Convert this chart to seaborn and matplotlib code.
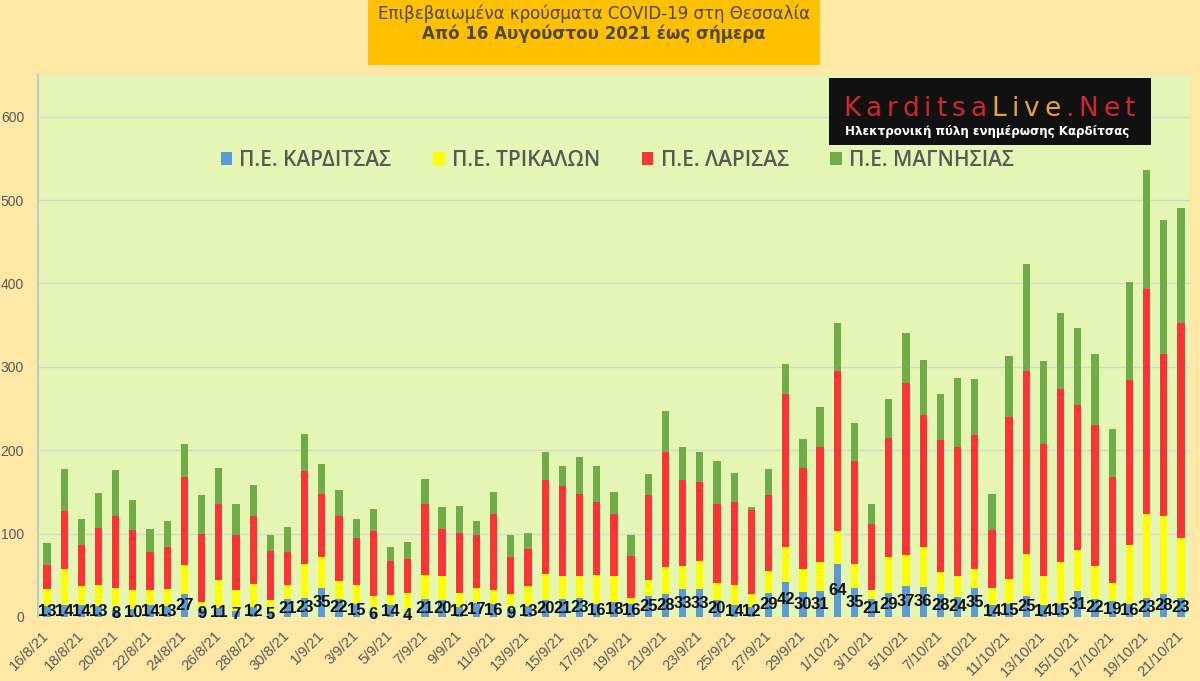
import numpy as np
import pandas as pd
import matplotlib
matplotlib.use("Agg")
import matplotlib.pyplot as plt
import seaborn as sns
from matplotlib.patches import Patch, Rectangle

# ---------------- data ----------------
start_date = "2021-08-16"
end_date = "2021-10-21"

karditsa = [13, 14, 14, 13, 8, 10, 14, 13, 27, 9, 11, 7, 12, 5, 21, 23,
            35, 22, 15, 6, 14, 4, 21, 20, 12, 17, 16, 9, 13, 20, 21, 23, 16, 18, 16,
            25, 28, 33, 33, 20, 14, 12, 29, 42, 30, 31,
            64, 35, 21, 29, 37, 36, 28, 24, 35, 14, 15, 25, 14, 15, 31, 22, 19, 16,
            23, 28, 23]
trikala = [21, 44, 23, 25, 27, 22, 18, 21, 35, 9, 33, 25, 28, 15, 17, 40,
           37, 21, 23, 19, 12, 25, 29, 29, 17, 18, 16, 18, 24, 32, 28, 26, 34, 31, 7,
           19, 32, 28, 34, 21, 24, 15, 26, 42, 27, 35,
           39, 28, 11, 43, 37, 48, 26, 25, 23, 21, 31, 50, 35, 51, 49, 39, 22, 70,
           101, 93, 72]
larisa = [28, 69, 49, 69, 86, 72, 46, 50, 106, 82, 91, 66, 81, 59, 40, 112,
          75, 78, 57, 78, 41, 40, 85, 57, 72, 63, 92, 45, 45, 112, 108, 98, 88, 75, 50,
          102, 138, 103, 95, 94, 100, 101, 91, 183, 122, 138,
          192, 124, 80, 143, 207, 158, 158, 155, 160, 69, 194, 220, 158, 208, 174,
          169, 127, 198, 269, 195, 258]
magnesia = [27, 51, 32, 42, 55, 36, 28, 31, 40, 46, 44, 37, 37, 19, 30, 44,
            36, 31, 23, 26, 17, 21, 31, 26, 32, 17, 26, 26, 19, 34, 24, 45, 43, 26, 25,
            26, 49, 40, 36, 52, 35, 4, 32, 37, 35, 48,
            58, 46, 23, 46, 60, 66, 55, 83, 67, 43, 73, 128, 100, 90, 92, 86, 58, 118,
            143, 160, 138]

series_names = ["Π.Ε. ΚΑΡΔΙΤΣΑΣ", "Π.Ε. ΤΡΙΚΑΛΩΝ", "Π.Ε. ΛΑΡΙΣΑΣ", "Π.Ε. ΜΑΓΝΗΣΙΑΣ"]
series_colors = ["#5B9BD5", "#FFFF00", "#FF3333", "#70AD47"]

title_line1 = "Επιβεβαιωμένα κρούσματα COVID-19 στη Θεσσαλία"
title_line2 = "Από 16 Αυγούστου 2021 έως σήμερα"
logo_parts = [("Karditsa", "#D0262C"), ("Live", "#E9A23B"), (".Net", "#D0262C")]
logo_sub = "Ηλεκτρονική πύλη ενημέρωσης Καρδίτσας"

dates = pd.date_range(start_date, end_date)
date_labels = [f"{d.day}/{d.month}/21" for d in dates]

df = pd.DataFrame({"date": date_labels, "k": karditsa, "t": trikala,
                   "l": larisa, "m": magnesia})
df["c1"] = df["k"]
df["c2"] = df["c1"] + df["t"]
df["c3"] = df["c2"] + df["l"]
df["c4"] = df["c3"] + df["m"]

# ---------------- figure ----------------
sns.set_theme(style="white")
plt.rcParams["font.family"] = ["DejaVu Sans"]

W, H = 1200, 681
fig = plt.figure(figsize=(W / 100, H / 100), dpi=100, facecolor="#FFE7A6")
ax = fig.add_axes([38 / W, (H - 617) / H, (1190 - 38) / W, (617 - 75) / H])
ax.set_facecolor("#E5F5B3")

for col, color in [("c4", series_colors[3]), ("c3", series_colors[2]),
                   ("c2", series_colors[1]), ("c1", series_colors[0])]:
    sns.barplot(data=df, x="date", y=col, color=color, width=0.42, ax=ax,
                saturation=1, linewidth=0, edgecolor="none", errorbar=None,
                order=date_labels)

ax.bar_label(ax.containers[-1], labels=[str(v) for v in karditsa],
             label_type="center", fontsize=12, fontweight="bold",
             color="#111111", family="Liberation Sans", clip_on=False)

ax.set_ylim(0, 650)
ax.set_xlim(-0.52, len(date_labels) - 0.47)
ax.set_yticks(range(0, 700, 100))
ax.set_yticklabels([str(v) for v in range(0, 700, 100)], color="#595959",
                   fontsize=10, family="Liberation Sans")
ax.set_xticks(range(0, len(date_labels), 2))
ax.set_xticklabels(date_labels[::2], rotation=45, ha="right", va="center",
                   rotation_mode="anchor", color="#595959", fontsize=10.5,
                   family="Liberation Sans")
ax.tick_params(axis="both", length=0)
ax.tick_params(axis="y", pad=10)
ax.tick_params(axis="x", pad=12)
ax.set_xlabel("")
ax.set_ylabel("")
ax.yaxis.grid(True, color="#D4D9CF", linewidth=1)
ax.set_axisbelow(True)
for s in ["top", "right", "bottom"]:
    ax.spines[s].set_visible(False)
ax.spines["left"].set_color("#AFC6D3")
ax.spines["left"].set_linewidth(1.2)

handles = [Patch(facecolor=c, edgecolor="none") for c in series_colors]
leg = ax.legend(handles, series_names, loc="center", bbox_to_anchor=(0.503, 0.843),
                ncol=4, frameon=False, handlelength=0.55,
                handleheight=0.6, handletextpad=0.35, columnspacing=2.0,
                prop={"family": "Open Sans", "size": 15})
for t in leg.get_texts():
    t.set_color("#595959")
    t.set_fontweight("semibold")

# ---------------- title box ----------------
fig.patches.append(Rectangle((368 / W, 1 - 65 / H), (820 - 368) / W, 65 / H,
                             transform=fig.transFigure, facecolor="#FFC000",
                             edgecolor="none", zorder=0))
fig.text(594 / W, 1 - 14 / H, title_line1, ha="center", va="center",
         fontsize=12, color="#4F4830")
fig.text(594 / W, 1 - 34 / H, title_line2, ha="center", va="center",
         fontsize=12, fontweight="bold", color="#4F4830")

# ---------------- logo ----------------
fig.patches.append(Rectangle((829 / W, 1 - 145 / H), (1151 - 829) / W, 67 / H,
                             transform=fig.transFigure, facecolor="#111111",
                             edgecolor="none", zorder=5))
renderer = fig.canvas.get_renderer()
chars = []
for word, col in logo_parts:
    for ch in word:
        chars.append((ch, col))
txts = []
widths = []
for ch, col in chars:
    t = fig.text(0, 1 - 109 / H, ch, color=col, fontsize=19, ha="left",
                 va="center", zorder=6, family="DejaVu Sans")
    txts.append(t)
    widths.append(t.get_window_extent(renderer).width)
total = 1135 - 843
track = (total - sum(widths)) / (len(chars) - 1)
x = 843.0
for t, w in zip(txts, widths):
    t.set_x(x / W)
    x += w + track
fig.text(987 / W, 1 - 132 / H, logo_sub, color="white", fontsize=8.6,
         fontweight="bold", ha="center", va="center", zorder=6)

fig.savefig("out.png", dpi=100, facecolor=fig.get_facecolor())
